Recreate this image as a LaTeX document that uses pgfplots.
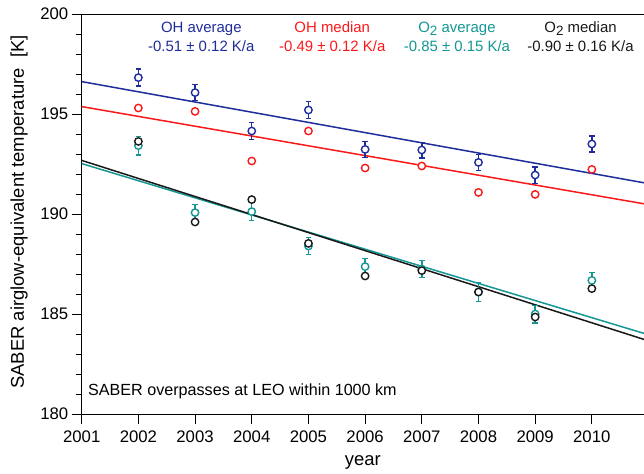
\documentclass[border=0pt]{standalone}
\usepackage{fontspec}
\setmainfont{Liberation Sans}
\usepackage{pgfplots}
\pgfplotsset{compat=1.18}
\usetikzlibrary{calc}

\definecolor{ohavg}{RGB}{30,45,155}
\definecolor{ohmed}{RGB}{250,25,25}
\definecolor{otavg}{RGB}{20,150,148}
\definecolor{otmed}{RGB}{25,25,25}

\newcommand{\Otwo}{O\raisebox{-0.35ex}{\fontsize{13.5}{14}\selectfont 2}}

\begin{document}
\begin{tikzpicture}
\begin{axis}[
  scale only axis,
  width=562.3bp, height=400bp,
  xmin=2001, xmax=2010.92, ymin=180, ymax=200,
  axis x line=bottom, axis y line=left,
  axis line style={-, line width=0.9bp, black},
  xtick={2001,...,2010},
  ytick={180,185,...,200},
  minor ytick={181,...,199},
  tick align=outside,
  major tick length=10bp, minor tick length=6bp,
  every tick/.style={line width=0.8bp, black},
  /pgf/number format/assume math mode=true,
  /pgf/number format/1000 sep={},
  ticklabel style={font=\fontsize{16.8}{18}\selectfont},
  xticklabel style={yshift=-3bp},
  xlabel={year},
  ylabel={SABER airglow-equivalent temperature\ \ [K]},
  label style={font=\fontsize{18.5}{20}\selectfont},
  xlabel style={at={(axis description cs:0.5,-0.12)}, anchor=center},
  ylabel style={at={(axis description cs:-0.1115,0.505)}, anchor=center},
  error bars/y dir=both,
  error bars/y explicit,
]
\coordinate (bl) at (rel axis cs:0,0);
\coordinate (tr) at (rel axis cs:1,1);

% top frame line
\draw[line width=0.9bp] (rel axis cs:0,1) -- (rel axis cs:1,1);

% linear trends
\addplot[ohavg, line width=1.5bp, no marks] coordinates {(2001,196.62) (2010.92,191.56)};
\addplot[ohmed, line width=1.5bp, no marks] coordinates {(2001,195.37) (2010.92,190.51)};
\addplot[otavg, line width=1.5bp, no marks] coordinates {(2001,192.52) (2010.92,184.03)};
\addplot[otmed, line width=1.5bp, no marks] coordinates {(2001,192.68) (2010.92,183.73)};

% OH average with uncertainty
\addplot[ohavg, only marks, mark=*, mark size=3.7bp,
  mark options={fill=white, draw=ohavg, line width=1.4bp},
  error bars/error bar style={line width=1.4bp, ohavg},
  error bars/error mark options={rotate=90, mark size=2.7bp, line width=1.4bp, ohavg}]
coordinates {
 (2002,196.82) +- (0,0.43)
 (2003,196.07) +- (0,0.39)
 (2004,194.15) +- (0,0.41)
 (2005,195.20) +- (0,0.41)
 (2006,193.23) +- (0,0.40)
 (2007,193.20) +- (0,0.39)
 (2008,192.58) +- (0,0.41)
 (2009,191.95) +- (0,0.41)
 (2010,193.50) +- (0,0.40)
};

% OH median
\addplot[ohmed, only marks, mark=*, mark size=3.7bp,
  mark options={fill=white, draw=ohmed, line width=1.4bp}]
coordinates {
 (2002,195.30) (2003,195.13) (2004,192.65) (2005,194.15) (2006,192.30)
 (2007,192.40) (2008,191.08) (2009,190.98) (2010,192.23)
};

% O2 average with uncertainty
\addplot[otavg, only marks, mark=*, mark size=3.7bp,
  mark options={fill=white, draw=otavg, line width=1.4bp},
  error bars/error bar style={line width=1.4bp, otavg},
  error bars/error mark options={rotate=90, mark size=2.7bp, line width=1.4bp, otavg}]
coordinates {
 (2002,193.42) +- (0,0.47)
 (2003,190.07) +- (0,0.40)
 (2004,190.12) +- (0,0.45)
 (2005,188.40) +- (0,0.43)
 (2006,187.37) +- (0,0.40)
 (2007,187.25) +- (0,0.42)
 (2008,186.10) +- (0,0.47)
 (2009,185.00) +- (0,0.44)
 (2010,186.68) +- (0,0.40)
};

% O2 median
\addplot[otmed, only marks, mark=*, mark size=3.7bp,
  mark options={fill=white, draw=otmed, line width=1.4bp}]
coordinates {
 (2002,193.63) (2003,189.60) (2004,190.72) (2005,188.53) (2006,186.90)
 (2007,187.17) (2008,186.10) (2009,184.85) (2010,186.27)
};

% trend annotations
\begin{scope}[every node/.style={font=\fontsize{15}{16}\selectfont, anchor=base, inner sep=0pt}]
\node[ohavg] at (axis cs:2003.11,199.05) {OH average};
\node[ohavg] at (axis cs:2003.11,198.13) {-0.51 ± 0.12 K/a};
\node[ohmed] at (axis cs:2005.42,199.05) {OH median};
\node[ohmed] at (axis cs:2005.42,198.13) {-0.49 ± 0.12 K/a};
\node[otavg] at (axis cs:2007.62,199.05) {\Otwo\ average};
\node[otavg] at (axis cs:2007.62,198.13) {-0.85 ± 0.15 K/a};
\node[otmed] at (axis cs:2009.80,199.05) {\Otwo\ median};
\node[otmed] at (axis cs:2009.80,198.13) {-0.90 ± 0.16 K/a};
\end{scope}

\node[font=\fontsize{16.2}{17}\selectfont, anchor=base west, inner sep=0pt]
  at (axis cs:2001.11,180.95) {SABER overpasses at LEO within 1000 km};
\end{axis}
\pgfresetboundingbox
\path ($(bl)+(-81.7bp,-59bp)$) rectangle ($(tr)+(0,14bp)$);
\end{tikzpicture}
\end{document}
